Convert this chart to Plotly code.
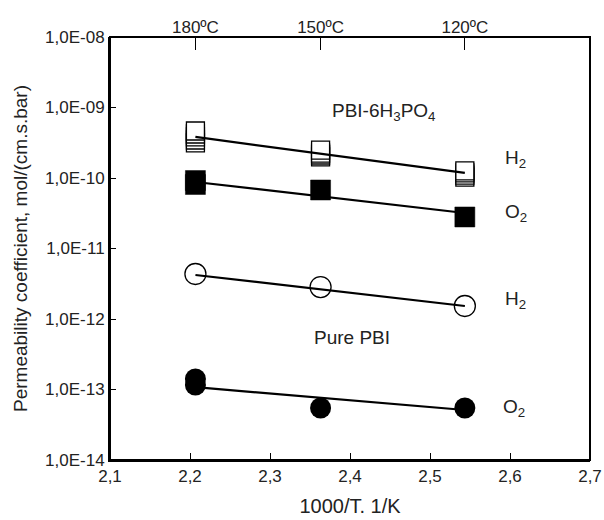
import plotly.graph_objects as go

# ---------------- data ----------------
# temperatures (ºC) and measured permeability coefficients, mol/(cm.s.bar)
h2_acid_T = [180, 180, 180, 180, 180, 150, 150, 150, 150, 120, 120, 120, 120]
h2_acid_P = [3.14e-10, 3.46e-10, 3.82e-10, 4.21e-10, 4.64e-10,
             1.99e-10, 2.12e-10, 2.26e-10, 2.49e-10,
             1.03e-10, 1.10e-10, 1.18e-10, 1.26e-10]
o2_acid_T = [180, 180, 150, 120]
o2_acid_P = [8.09e-11, 9.21e-11, 6.76e-11, 2.80e-11]
h2_pure_T = [180, 150, 120]
h2_pure_P = [4.35e-12, 2.84e-12, 1.53e-12]
o2_pure_T = [180, 180, 150, 120]
o2_pure_P = [1.16e-13, 1.41e-13, 5.47e-14, 5.47e-14]

# fitted (Arrhenius) lines, end values at 180 ºC and 120 ºC
fit_T = [180, 120]
fit_h2_acid = [3.82e-10, 1.18e-10]
fit_o2_acid = [8.78e-11, 3.19e-11]
fit_h2_pure = [4.21e-12, 1.53e-12]
fit_o2_pure = [1.08e-13, 5.12e-14]

top_T = [180, 150, 120]
top_labels = ["180ºC", "150ºC", "120ºC"]
y_tickvals = [1e-14, 1e-13, 1e-12, 1e-11, 1e-10, 1e-9, 1e-8]
y_ticktext = ["1,0E-14", "1,0E-13", "1,0E-12", "1,0E-11", "1,0E-10", "1,0E-09", "1,0E-08"]
x_tickvals = [2.1, 2.2, 2.3, 2.4, 2.5, 2.6, 2.7]
x_ticktext = ["2,1", "2,2", "2,3", "2,4", "2,5", "2,6", "2,7"]


def inv(T_list):
    return [1000.0 / (t + 273.15) for t in T_list]


FONT = "Liberation Sans, Arial, sans-serif"
fig = go.Figure()

# markers
fig.add_trace(go.Scatter(x=inv(h2_acid_T), y=h2_acid_P, mode="markers",
                         marker=dict(symbol="square", size=18, color="white",
                                     line=dict(color="black", width=1.3)),
                         showlegend=False))
fig.add_trace(go.Scatter(x=inv(o2_acid_T), y=o2_acid_P, mode="markers",
                         marker=dict(symbol="square", size=20, color="black",
                                     line=dict(color="black", width=0.5)),
                         showlegend=False))
fig.add_trace(go.Scatter(x=inv(h2_pure_T), y=h2_pure_P, mode="markers",
                         marker=dict(symbol="circle-open", size=21, color="black",
                                     line=dict(color="black", width=1.3)),
                         showlegend=False))
fig.add_trace(go.Scatter(x=inv(o2_pure_T), y=o2_pure_P, mode="markers",
                         marker=dict(symbol="circle", size=21, color="black"),
                         showlegend=False))

# fit lines (drawn on top)
for f in [fit_h2_acid, fit_o2_acid, fit_h2_pure, fit_o2_pure]:
    fig.add_trace(go.Scatter(x=inv(fit_T), y=f, mode="lines",
                             line=dict(color="black", width=2.2),
                             showlegend=False))

# invisible trace for the top axis
fig.add_trace(go.Scatter(x=inv(top_T), y=[1e-8] * 3, xaxis="x2", mode="markers",
                         marker=dict(opacity=0), showlegend=False, hoverinfo="skip"))

fig.update_layout(
    width=604, height=520,
    margin=dict(l=110, r=14, t=37, b=60),
    plot_bgcolor="white", paper_bgcolor="white",
    font=dict(family=FONT, color="#222222", size=14),
    xaxis=dict(range=[2.1, 2.7], tickvals=x_tickvals, ticktext=x_ticktext,
               ticks="inside", ticklen=7, tickwidth=1, tickcolor="black",
               showline=True, linecolor="black", linewidth=2, automargin=False,
               showgrid=False, zeroline=False, tickfont=dict(size=17),
               title=dict(text="1000/T. 1/K", font=dict(size=20), standoff=14)),
    xaxis2=dict(range=[2.1, 2.7], overlaying="x", side="top",
                tickvals=inv(top_T), ticktext=top_labels, automargin=False,
                ticks="inside", ticklen=13, tickwidth=1.3, tickcolor="black",
                showgrid=False, zeroline=False, showline=False,
                tickfont=dict(size=17)),
    yaxis=dict(type="log", range=[-14, -8], tickvals=y_tickvals, ticktext=y_ticktext,
               ticks="inside", ticklen=6, tickwidth=1.3, tickcolor="black",
               showline=True, linecolor="black", linewidth=2, automargin=False,
               showgrid=False, zeroline=False, tickfont=dict(size=17),
               title=dict(text="Permeability coefficient, mol/(cm.s.bar)",
                          font=dict(size=19), standoff=12)),
    shapes=[dict(type="rect", xref="paper", yref="paper", x0=0, x1=1, y0=0, y1=1,
                 line=dict(color="black", width=2), layer="above")],
)

ann = [
    ("PBI-6H<sub>3</sub>PO<sub>4</sub>", 330, 112),
    ("H<sub>2</sub>", 503, 159),
    ("O<sub>2</sub>", 503, 213),
    ("H<sub>2</sub>", 503, 300),
    ("Pure PBI", 312, 337),
    ("O<sub>2</sub>", 501, 408),
]
for text, px, py in ann:
    fig.add_annotation(text=text, xref="paper", yref="paper",
                       x=(px - 110) / 480.0, y=(460 - py) / 423.0,
                       xanchor="left", yanchor="middle", showarrow=False,
                       font=dict(family=FONT, size=19, color="#222222"))

fig.write_html("out.html", config={"displayModeBar": False},
               post_script="document.body.style.margin='0px';")
